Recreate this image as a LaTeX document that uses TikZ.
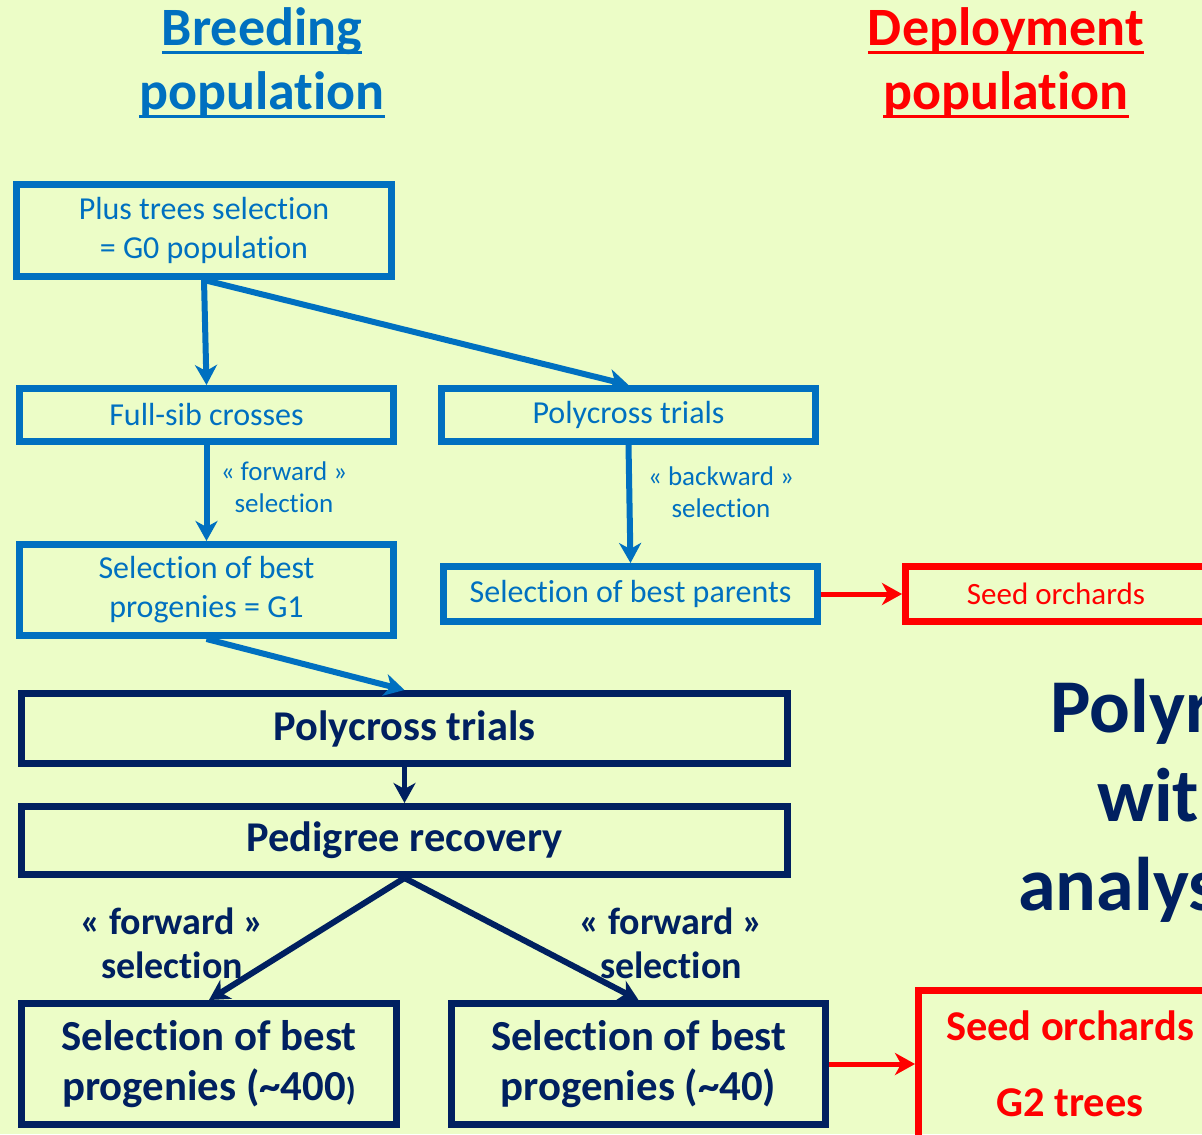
\documentclass[tikz,border=0pt]{standalone}
\usepackage{fontspec}
\setmainfont{Carlito}[Ligatures=NoCommon]
\usetikzlibrary{arrows.meta}
\definecolor{bgcol}{RGB}{236,253,199}
\definecolor{blu}{RGB}{0,112,192}
\definecolor{navy}{RGB}{0,32,96}
\definecolor{rd}{RGB}{255,0,0}
\newcommand\ulword[1]{\setbox0\hbox{#1}\rlap{\raisebox{-4.2pt}{\rule{\wd0}{1.4pt}}}\box0}
\begin{document}
\begin{tikzpicture}[x=0.5pt, y=-0.5pt,
    bbox/.style={draw=blu, line width=3.5pt, text=blu, align=center, inner sep=0pt, font=\fontsize{16}{19.5}\selectfont},
    nbox/.style={draw=navy, line width=3.5pt, text=navy, align=center, inner sep=0pt, font=\bfseries\fontsize{21.4}{25}\selectfont},
    rbox/.style={draw=rd, line width=3.5pt, text=rd, align=center, inner sep=0pt},
    blab/.style={text=blu, align=center, font=\fontsize{13.5}{16}\selectfont},
    nlab/.style={text=navy, align=center, font=\bfseries\fontsize{19}{22}\selectfont},
    ttl/.style={align=center, font=\bfseries\fontsize{27}{32}\selectfont},
    big/.style={text=navy, anchor=base west, inner sep=0pt, font=\bfseries\fontsize{38}{44}\selectfont},
    barrow/.style={draw=blu, line width=3pt, -{Stealth[length=10pt,width=11pt,inset=3pt]}},
    narrow/.style={draw=navy, line width=3pt, -{Stealth[length=10pt,width=11pt,inset=3pt]}},
    rarrow/.style={draw=rd, line width=2.5pt, -{Stealth[length=10pt,width=11pt,inset=3pt]}}]
  \useasboundingbox (0,0) rectangle (1202,1134);
  \fill[bgcol] (0,0) rectangle (1202,1134);
  \clip (0,0) rectangle (1202,1134);
  % titles
  \node[ttl, text=blu] (breed) at (262,63) {\ulword{Breeding}\\\ulword{population}};
  \node[ttl, text=rd] (deploy) at (1006,63) {\ulword{Deployment}\\\ulword{population}};
  % breeding population
  \node[bbox, minimum width=187.5pt, minimum height=46pt] (g0) at (204,230.5) {Plus trees selection\\= G0 population};
  \node[bbox, minimum width=187pt, minimum height=26.5pt] (fullsib) at (206.5,415) {Full-sib crosses};
  \node[bbox, minimum width=187pt, minimum height=26.5pt] (polyA) at (628.5,415) {Polycross trials};
  \node[bbox, minimum width=187pt, minimum height=45.5pt] (g1) at (206.5,590) {Selection of best\\progenies = G1};
  \node[bbox, minimum width=187pt, minimum height=27.5pt] (parents) at (630.5,594) {Selection of best parents};
  \node[nbox, font=\bfseries\fontsize{21.2}{25}\selectfont, minimum width=383pt, minimum height=35pt] (polyB) at (404.5,728.5) {Polycross trials};
  \node[nbox, font=\bfseries\fontsize{21.2}{25}\selectfont, minimum width=383pt, minimum height=34pt] (pedigree) at (404.5,840.5) {Pedigree recovery};
  \node[nbox, minimum width=187.5pt, minimum height=60.5pt] (best400) at (209,1064) {Selection of best\\progenies (\textasciitilde400\fontsize{16}{25}\selectfont)};
  \node[nbox, minimum width=187pt, minimum height=60.5pt] (best40) at (638.5,1064) {Selection of best\\progenies (\textasciitilde40)};
  % deployment population
  \node[rbox, font=\fontsize{15.5}{19.5}\selectfont, minimum width=150.5pt, minimum height=27.5pt] (seedA) at (1056,594) {Seed orchards};
  \node[rbox, font=\bfseries\fontsize{21.2}{38}\selectfont, minimum width=151.5pt, minimum height=74pt] (seedB) at (1070,1064) {Seed orchards\\G2 trees};
  \node[big] (polyr) at (1050,732) {Polyr};
  \node[big] (with) at (1097,821) {with};
  \node[big] (analys) at (1018,910) {analys};
  % labels
  \node[blab] (fwdA) at (284,487) {« forward »\\selection};
  \node[blab] (bwd) at (721,492) {« backward »\\selection};
  \node[nlab] (fwdB) at (172,943) {« forward »\\selection};
  \node[nlab] (fwdC) at (671,943) {« forward »\\selection};
  % connectors
  \draw[barrow] (g0.south) -- (fullsib.north);
  \draw[barrow] (g0.south) -- (polyA.north);
  \draw[barrow] (fullsib.south) -- (g1.north);
  \draw[barrow] (polyA.south) -- (parents.north);
  \draw[barrow] (g1.south) -- (polyB.north);
  \draw[narrow, line width=2.5pt] (polyB.south) -- (pedigree.north);
  \draw[narrow] (pedigree.south) -- (best400.north);
  \draw[narrow] (pedigree.south) -- (best40.north);
  \draw[rarrow] (parents.east) -- (seedA.west);
  \draw[rarrow] (best40.east) -- (seedB.west);
\end{tikzpicture}
\end{document}
